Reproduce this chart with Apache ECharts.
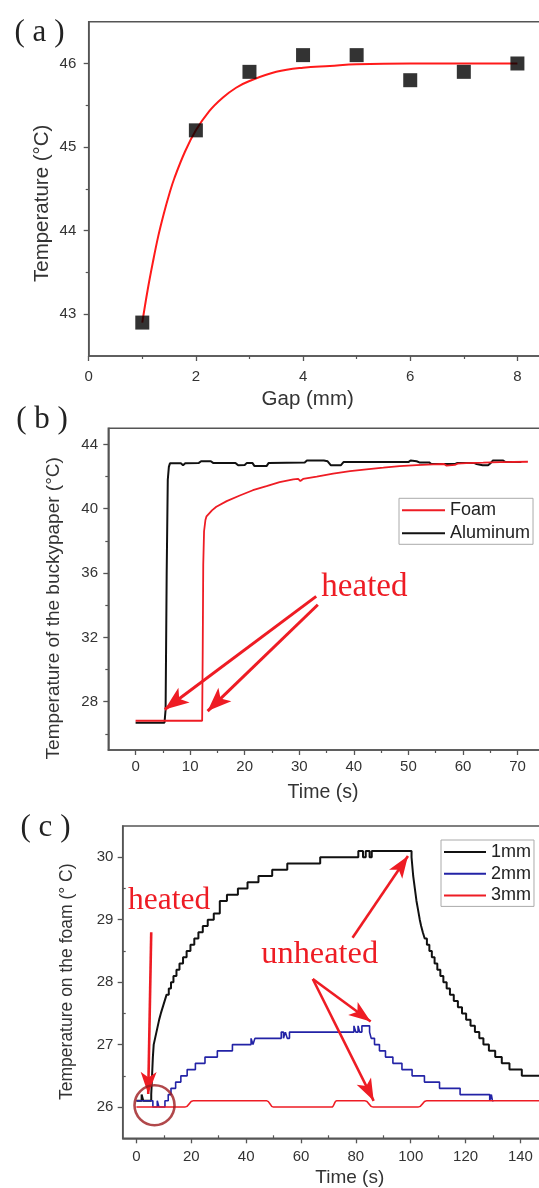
<!DOCTYPE html>
<html><head><meta charset="utf-8">
<script src="https://cdn.jsdelivr.net/npm/echarts@6/dist/echarts.min.js"></script>
<style>html,body{margin:0;padding:0;background:#fff}#c{width:539px;height:1188px}</style>
</head><body><div id="c"></div>
<script>
// ---------- Panel (a) : temperature vs gap ----------
const gapMm   = [1, 2, 3, 4, 5, 6, 7, 8];
const gapTemp = [42.9, 45.2, 45.9, 46.1, 46.1, 45.8, 45.9, 46.0];
const fitGap  = [1, 1.1, 1.2, 1.3, 1.4, 1.5, 1.6, 1.8, 2.0, 2.25, 2.5, 2.75, 3, 3.5, 4, 4.5, 5, 6, 7, 8];
const fitTemp = [42.90, 43.29, 43.63, 43.94, 44.20, 44.43, 44.63, 44.95, 45.20, 45.43, 45.59, 45.71, 45.79, 45.90, 45.95, 45.97, 45.99, 46.0, 46.0, 46.0];
const aXTicks = [0, 2, 4, 6, 8];
const aXMinor = [1, 3, 5, 7];
const aYTicks = [43, 44, 45, 46];
const aYMinor = [43.5, 44.5, 45.5];

// ---------- Panel (b) : buckypaper temperature vs time ----------
const alTime = [0,5.3,5.5,5.7,5.9,6.1,6.3,8.3,8.7,9.1,11.6,12.0,13.8,14.2,18.3,18.8,20.0,20.4,21.4,21.8,24.0,24.4,31.0,31.4,34.5,35.2,35.8,37.6,38.1,50.0,50.4,51.5,52.0,53.8,54.2,58.6,59.0,62.0,62.5,63.6,64.6,65.1,65.5,67.3,67.8,70.7];
const alTemp = [26.7,26.7,27.5,36.0,41.8,42.6,42.82,42.82,42.7,42.82,42.85,42.95,42.95,42.85,42.85,42.7,42.72,42.85,42.85,42.65,42.65,42.85,42.88,43.0,43.0,42.95,42.7,42.7,42.9,42.9,43.0,42.95,42.88,42.88,42.78,42.78,42.85,42.85,42.78,42.7,42.7,42.85,43.0,43.0,42.9,42.9];
const foamTime = [0,12.2,12.3,12.4,12.55,12.8,13.0,14.0,14.8,16.7,19.1,21.5,24.0,26.4,28.9,29.8,30.2,30.7,33.2,36.2,39.3,42.3,45.4,48.4,51.5,54.5,56.5,57.0,58.5,59.0,60.6,63.7,66.8,71.9];
const foamTemp = [26.82,26.82,31.0,36.5,38.6,39.3,39.53,39.9,40.12,40.47,40.82,41.15,41.4,41.65,41.82,41.85,41.72,41.85,41.99,42.18,42.34,42.45,42.55,42.65,42.71,42.76,42.78,42.68,42.72,42.8,42.84,42.86,42.9,42.92];
const bXTicks = [0, 10, 20, 30, 40, 50, 60, 70];
const bXMinor = [5, 15, 25, 35, 45, 55, 65, 75];
const bYTicks = [28, 32, 36, 40, 44];
const bYMinor = [26, 30, 34, 38, 42];

// ---------- Panel (c) : foam temperature vs time (step data) ----------
const mm1Time = [0,1.9,2.5,5.4,5.6,5.8,6.0,6.3,6.8,7.3,7.8,8.3,8.9,9.6,10.3,11.0,11.8,12.6,13.5,14.6,15.7,17.0,18.3,19.7,21.1,22.6,24.2,26.0,28.2,30.4,33.0,37.0,40.5,44.5,49.5,55.0,67.0,80.9,82.6,83.6,85.0,85.8,100.3,100.5,100.7,100.9,101.2,101.5,101.8,102.1,102.5,102.9,103.3,103.8,104.4,105.1,105.9,106.8,107.7,108.7,109.7,110.8,111.9,113.1,114.3,115.7,117.2,118.7,120.2,121.8,123.4,125.0,126.5,128.5,130.8,133.2,136.0,140.5,150];
const mm1Temp = [26.1,26.2,26.1,26.2,26.4,26.6,26.8,27.0,27.1,27.2,27.3,27.4,27.5,27.6,27.7,27.8,27.9,28.0,28.1,28.2,28.3,28.4,28.5,28.6,28.7,28.8,28.9,29.0,29.1,29.3,29.4,29.5,29.6,29.7,29.8,29.9,30.0,30.1,30.0,30.1,30.0,30.1,30.0,29.9,29.8,29.7,29.6,29.5,29.4,29.3,29.2,29.1,29.0,28.9,28.8,28.7,28.6,28.5,28.4,28.3,28.2,28.1,28.0,27.9,27.8,27.7,27.6,27.5,27.4,27.3,27.2,27.1,27.0,26.9,26.8,26.7,26.6,26.5,26.5];
const mm2Time = [0,6.0,7.6,8.2,10.4,11.6,12.6,14.3,16.2,18.5,21.5,25.0,29.5,35.0,41.8,42.5,43.2,52.8,53.6,54.3,55.0,55.8,79.3,80.0,80.8,81.4,82.2,85.0,85.6,86.8,88.6,90.8,93.5,96.8,100.5,105.0,110.5,118.0,128.8,129.4,129.8,130.2];
const mm2Temp = [26.1,26.0,26.1,26.0,26.1,26.2,26.3,26.4,26.5,26.6,26.7,26.8,26.9,27.0,27.1,27.0,27.1,27.2,27.1,27.2,27.1,27.2,27.3,27.2,27.3,27.2,27.3,27.2,27.1,27.0,26.9,26.8,26.7,26.6,26.5,26.4,26.3,26.2,26.1,26.2,26.1,26.1];
const mm3Time = [0,17.7,20.7,47.5,49.9,71.2,73.0,83.3,86.3,102.7,105.8,150];
const mm3Temp = [26.0,26.0,26.1,26.1,26.0,26.0,26.1,26.1,26.0,26.0,26.1,26.1];
const cXTicks = [0, 20, 40, 60, 80, 100, 120, 140];
const cXMinor = [10, 30, 50, 70, 90, 110, 130, 150];
const cYTicks = [26, 27, 28, 29, 30];
const cYMinor = [26.5, 27.5, 28.5, 29.5];

// ---------- annotations (data coordinates) ----------
const bArrows = [[[33.1, 34.55], [5.35, 27.52]], [[33.4, 34.03], [13.2, 27.42]]];
const cArrows = [[[5.4, 28.8], [4.3, 26.21]], [[78.8, 28.71], [99.0, 30.02]], [[64.3, 28.05], [85.4, 27.37]], [[64.3, 28.05], [86.5, 26.1]]];
const cCircle = [6.6, 26.03];

// ---------- styling ----------
const FONT = '"Liberation Sans", Arial, sans-serif';
const SERIF = '"Liberation Serif", "Times New Roman", serif';
const AX = '#555';
const RED = '#ee1c24';
const zip = (a, b) => a.map((v, i) => [v, b[i]]);

function axisPair(dim, gridIndex, min, max, ticks, minor, margin, minorInside) {
  const pos = dim === 'x' ? 'bottom' : 'left';
  return [
    { type: 'value', gridIndex, min, max, position: pos,
      axisLine: { show: true, onZero: false, lineStyle: { color: AX, width: 1.5 } },
      axisTick: { show: true, inside: false, length: 5, customValues: ticks, lineStyle: { color: AX, width: 1.3 } },
      axisLabel: { show: true, customValues: ticks, margin, fontSize: 15, color: '#333', fontFamily: FONT },
      splitLine: { show: false } },
    { type: 'value', gridIndex, min, max, position: pos,
      axisLine: { show: false, onZero: false },
      axisTick: { show: true, inside: minorInside, length: 3, customValues: minor, lineStyle: { color: AX, width: 1.2 } },
      axisLabel: { show: false }, splitLine: { show: false } }
  ];
}
function T(x, y, text, size, family, fill, rotation) {
  return { type: 'text', x, y, rotation: rotation || 0, silent: true, z: 100,
    style: { text, fontSize: size, fontFamily: family, fill, align: 'center', verticalAlign: 'middle' } };
}
function arrowLines(list, size, width) {
  return { silent: true, animation: false, symbol: ['none', 'arrow'],
    symbolSize: size,
    lineStyle: { color: RED, width, type: 'solid', opacity: 1 },
    itemStyle: { color: RED },
    label: { show: false }, emphasis: { disabled: true },
    data: list.map(p => [{ coord: p[0] }, { coord: p[1] }]) };
}
const gridBase = { show: true, borderColor: AX, borderWidth: 1.5, backgroundColor: 'transparent', containLabel: false, outerBoundsMode: 'none' };

const chart = echarts.init(document.getElementById('c'), null, { renderer: 'canvas' });
chart.setOption({
  animation: false,
  backgroundColor: '#fff',
  grid: [
    Object.assign({ left: 88.7, top: 21.7, width: 482.3, height: 334.3 }, gridBase),
    Object.assign({ left: 108.3, top: 428.3, width: 463.8, height: 321.7 }, gridBase),
    Object.assign({ left: 122.7, top: 826, width: 452.6, height: 312.3 }, gridBase)
  ],
  xAxis: [
    ...axisPair('x', 0, 0, 9, aXTicks, aXMinor, 13, false),
    ...axisPair('x', 1, -5, 80, bXTicks, bXMinor, 9.7, false),
    ...axisPair('x', 2, -5, 160, cXTicks, cXMinor, 10.7, true)
  ],
  yAxis: [
    ...axisPair('y', 0, 42.5, 46.5, aYTicks, aYMinor, 12.4, false),
    ...axisPair('y', 1, 25, 45, bYTicks, bYMinor, 10.3, false),
    ...axisPair('y', 2, 25.5, 30.5, cYTicks, cYMinor, 9.3, true)
  ],
  legend: [
    { data: ['Foam', 'Aluminum'], orient: 'vertical', left: 399, top: 498.3, padding: [3, 3, 2, 3], itemGap: 5,
      itemWidth: 43, itemHeight: 2, icon: 'rect', selectedMode: false,
      textStyle: { fontSize: 18, color: '#222', fontFamily: FONT },
      borderColor: '#aaa', borderWidth: 1, backgroundColor: '#fff' },
    { data: ['1mm', '2mm', '3mm'], orient: 'vertical', left: 441, top: 840, padding: [3, 3, 2, 3], itemGap: 3.7,
      itemWidth: 42, itemHeight: 2, icon: 'rect', selectedMode: false,
      textStyle: { fontSize: 18, color: '#222', fontFamily: FONT },
      borderColor: '#aaa', borderWidth: 1, backgroundColor: '#fff' }
  ],
  series: [
    { name: 'fit', type: 'line', xAxisIndex: 0, yAxisIndex: 0, data: zip(fitGap, fitTemp), smooth: 0.4,
      symbol: 'none', color: '#ff1a1a', lineStyle: { width: 2 }, z: 2 },
    { name: 'gap', type: 'scatter', xAxisIndex: 0, yAxisIndex: 0, data: zip(gapMm, gapTemp),
      symbol: 'rect', symbolSize: 14, itemStyle: { color: '#000' }, z: 3 },

    { name: 'Aluminum', type: 'line', xAxisIndex: 2, yAxisIndex: 2, data: zip(alTime, alTemp),
      symbol: 'none', color: '#111', lineStyle: { width: 2 }, z: 2,
      markLine: arrowLines(bArrows, [14, 24], 3) },
    { name: 'Foam', type: 'line', xAxisIndex: 2, yAxisIndex: 2, data: zip(foamTime, foamTemp),
      symbol: 'none', color: RED, lineStyle: { width: 1.8 }, z: 3 },

    { name: '1mm', type: 'line', xAxisIndex: 4, yAxisIndex: 4, data: zip(mm1Time, mm1Temp), step: 'end',
      symbol: 'none', color: '#111', lineStyle: { width: 2 }, z: 2 },
    { name: '2mm', type: 'line', xAxisIndex: 4, yAxisIndex: 4, data: zip(mm2Time, mm2Temp), step: 'end',
      symbol: 'none', color: '#2323a6', lineStyle: { width: 1.6 }, z: 3 },
    { name: '3mm', type: 'line', xAxisIndex: 4, yAxisIndex: 4, data: zip(mm3Time, mm3Temp), smooth: 0.5, smoothMonotone: 'x',
      symbol: 'none', color: RED, lineStyle: { width: 1.6 }, z: 4 },
    { name: 'circle', type: 'scatter', xAxisIndex: 4, yAxisIndex: 4, data: [cCircle], silent: true,
      symbol: 'circle', symbolSize: 40, itemStyle: { color: 'rgba(0,0,0,0)', borderColor: '#9e1a1e', borderWidth: 2.6 }, z: 6,
      markLine: arrowLines(cArrows, [12, 22], 2.6) }
  ],
  graphic: [
    T(39.5, 33.3, '( a )', 31, SERIF, '#222'),
    T(42.1, 420, '( b )', 31, SERIF, '#222'),
    T(45.5, 828, '( c )', 31, SERIF, '#222'),
    T(42.5, 203.3, 'Temperature (°C)', 20.5, FONT, '#333', Math.PI / 2),
    T(53.3, 608.3, 'Temperature of the buckypaper (°C)', 19, FONT, '#333', Math.PI / 2),
    T(67, 981.7, 'Temperature on the foam (° C)', 17.5, FONT, '#333', Math.PI / 2),
    T(307.7, 399, 'Gap (mm)', 20.5, FONT, '#333'),
    T(323, 793, 'Time (s)', 19.5, FONT, '#333'),
    T(349.8, 1178, 'Time (s)', 19, FONT, '#333'),
    T(364.4, 587, 'heated', 33, SERIF, RED),
    T(169.2, 900.4, 'heated', 31.5, SERIF, RED),
    T(319.7, 954, 'unheated', 32.4, SERIF, RED)
  ]
});
</script>
</body></html>
